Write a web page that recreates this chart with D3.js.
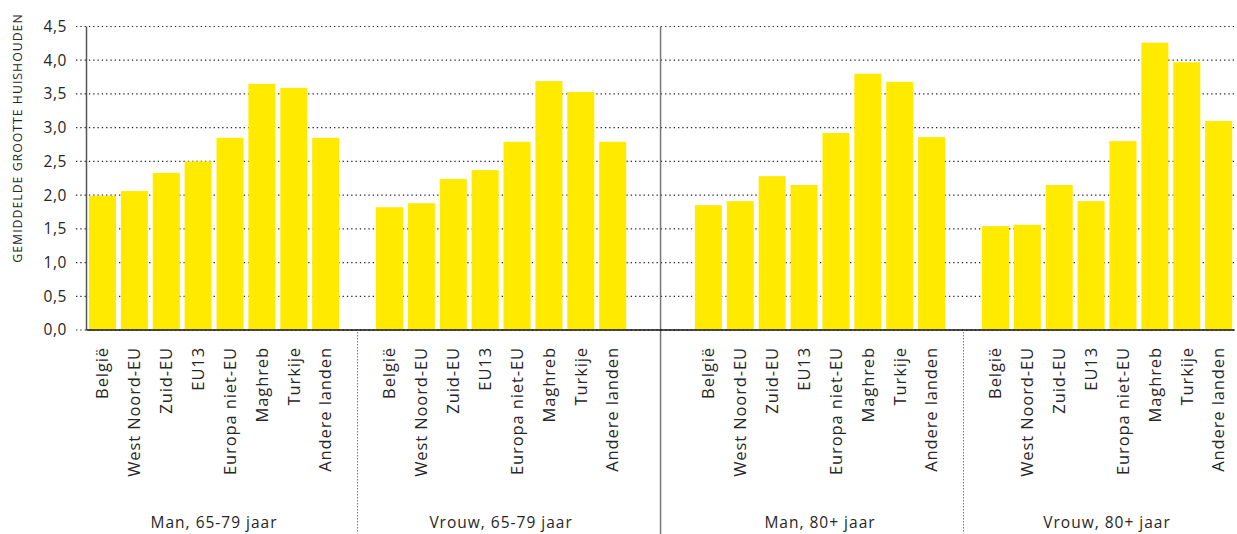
<!DOCTYPE html>
<html><head><meta charset="utf-8">
<script src="https://cdn.jsdelivr.net/npm/d3@7"></script>
<style>
body{margin:0;background:#fff;}
svg text{font-family:"Open Sans",sans-serif;fill:#262626;}
</style></head>
<body><svg id="c" width="1237" height="534"></svg>
<script>
const categories = ["België","West Noord-EU","Zuid-EU","EU13","Europa niet-EU","Maghreb","Turkije","Andere landen"];
const groups = ["Man, 65-79 jaar","Vrouw, 65-79 jaar","Man, 80+ jaar","Vrouw, 80+ jaar"];
const manYoung   = [1.99, 2.06, 2.33, 2.50, 2.85, 3.65, 3.59, 2.85];
const vrouwYoung = [1.82, 1.88, 2.24, 2.37, 2.79, 3.69, 3.53, 2.79];
const manOld     = [1.85, 1.91, 2.28, 2.15, 2.92, 3.80, 3.68, 2.86];
const vrouwOld   = [1.54, 1.56, 2.15, 1.91, 2.80, 4.26, 3.97, 3.10];
const seriesValues = [manYoung, vrouwYoung, manOld, vrouwOld];
const yTicks = [0,0.5,1,1.5,2,2.5,3,3.5,4,4.5];
const yTitle = "GEMIDDELDE GROOTTE HUISHOUDEN";

const svg = d3.select("#c");
const L = 86.5, R = 1234.6, T = 26.5, B = 330;

// slot keys with gap slots between groups
const slots = [];
const gapsAfter = [1,2,1];
groups.forEach((g,gi)=>{
  categories.forEach(c=>slots.push(g+"|"+c));
  if(gi<groups.length-1) for(let k=0;k<gapsAfter[gi];k++) slots.push("gap"+gi+"_"+k);
});
const x = d3.scaleBand().domain(slots).range([L,R]).paddingInner(0.153).paddingOuter(0.0765);
const y = d3.scaleLinear().domain([0,4.5]).range([B,T]);

// gridlines
svg.append("g").selectAll("line").data(yTicks).join("line")
  .attr("x1",76).attr("x2",R).attr("y1",d=>y(d)).attr("y2",d=>y(d))
  .attr("stroke","#222").attr("stroke-width",1.2).attr("stroke-dasharray","1.3,3");

// y tick labels
const fmt = d=>d3.format(".1f")(d).replace(".",",");
svg.append("g").selectAll("text").data(yTicks).join("text")
  .attr("x",67).attr("y",d=>y(d)).attr("dy","0.35em").attr("text-anchor","end")
  .style("font-size","15.5px").style("letter-spacing","0.6px").text(fmt);

// y title
svg.append("text").attr("transform","translate(22,138) rotate(-90)")
  .attr("text-anchor","middle").style("font-size","12.3px").style("letter-spacing","1px").text(yTitle);

// bars
const data = [];
groups.forEach((g,gi)=>categories.forEach((c,ci)=>data.push({key:g+"|"+c,cat:c,v:seriesValues[gi][ci]})));
svg.append("g").selectAll("rect").data(data).join("rect")
  .attr("x",d=>x(d.key)).attr("width",x.bandwidth())
  .attr("y",d=>y(d.v)).attr("height",d=>y(0)-y(d.v))
  .attr("fill","#ffea00");

// separators
const sepDotted = [x("gap0_0")+x.bandwidth()/2, x("gap2_0")+x.bandwidth()/2];
const sepSolid = (x("gap1_0") + x("gap1_1") + x.bandwidth())/2;
svg.append("g").selectAll("line").data(sepDotted).join("line")
  .attr("x1",d=>d).attr("x2",d=>d).attr("y1",B+2).attr("y2",532)
  .attr("stroke","#777").attr("stroke-width",1).attr("stroke-dasharray","1.5,1.5");
svg.append("line").attr("x1",sepSolid).attr("x2",sepSolid).attr("y1",T).attr("y2",534)
  .attr("stroke","#777").attr("stroke-width",1.5);

// axes lines
svg.append("line").attr("x1",L).attr("x2",L).attr("y1",T).attr("y2",B)
  .attr("stroke","#555").attr("stroke-width",1.5);
svg.append("line").attr("x1",L).attr("x2",R).attr("y1",B).attr("y2",B)
  .attr("stroke","#111").attr("stroke-width",1.5);

// category labels
svg.append("g").selectAll("text").data(data).join("text")
  .attr("transform",d=>`translate(${x(d.key)+x.bandwidth()/2},347) rotate(-90)`)
  .attr("text-anchor","end").attr("dy","0.35em")
  .style("font-size","16.5px").style("letter-spacing","0.9px").text(d=>d.cat);

// group labels
svg.append("g").selectAll("text").data(groups).join("text")
  .attr("x",g=>(x(g+"|"+categories[0]) + x(g+"|"+categories[7]) + x.bandwidth())/2)
  .attr("y",528).attr("text-anchor","middle")
  .style("font-size","15.5px").style("letter-spacing","1px").text(g=>g);
</script></body></html>
